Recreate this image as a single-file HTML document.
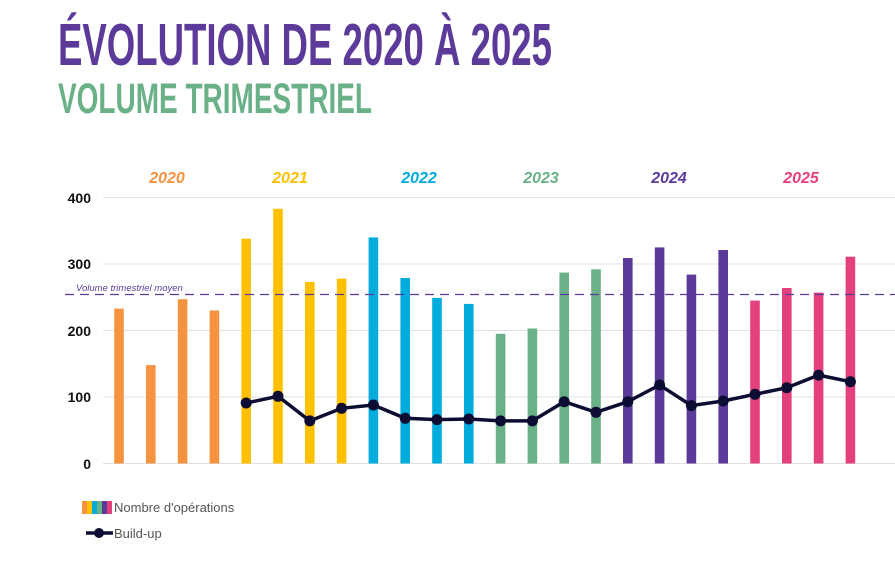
<!DOCTYPE html>
<html><head><meta charset="utf-8"><style>body{margin:0;background:#fff}svg{display:block}</style></head><body>
<svg width="895" height="570" viewBox="0 0 895 570" xmlns="http://www.w3.org/2000/svg" font-family="Liberation Sans, sans-serif">
<text x="58" y="65" font-family="Liberation Sans Narrow, Liberation Sans, sans-serif" font-weight="bold" font-size="59" fill="#5b3a9a" textLength="494" lengthAdjust="spacingAndGlyphs">ÉVOLUTION DE 2020 À 2025</text>
<text x="58" y="113" font-family="Liberation Sans Narrow, Liberation Sans, sans-serif" font-weight="bold" font-size="43" fill="#6ab187" textLength="314" lengthAdjust="spacingAndGlyphs">VOLUME TRIMESTRIEL</text>
<g font-weight="bold" font-style="italic" font-size="16" text-anchor="middle">
<text x="167" y="183" fill="#f59340">2020</text>
<text x="290" y="183" fill="#ffc000">2021</text>
<text x="419" y="183" fill="#00acdc">2022</text>
<text x="541" y="183" fill="#6ab187">2023</text>
<text x="669" y="183" fill="#5b3a9a">2024</text>
<text x="801" y="183" fill="#e5407e">2025</text>
</g>
<g stroke="#e0e0e0" stroke-width="1">
<line x1="103" y1="197.5" x2="895" y2="197.5"/><line x1="103" y1="264" x2="895" y2="264"/><line x1="103" y1="330.5" x2="895" y2="330.5"/><line x1="103" y1="397" x2="895" y2="397"/><line x1="103" y1="463.5" x2="895" y2="463.5"/>
</g>
<g font-weight="bold" font-size="14" text-anchor="end" fill="#111">
<text x="91" y="203">400</text><text x="91" y="269">300</text><text x="91" y="336">200</text><text x="91" y="402">100</text><text x="91" y="469">0</text>
</g>
<g>
<g fill="#f59340">
<rect x="114.2" y="308.6" width="9.6" height="154.9"/><rect x="146" y="365.1" width="9.6" height="98.4"/><rect x="177.8" y="299.2" width="9.6" height="164.3"/><rect x="209.6" y="310.5" width="9.6" height="153"/>
</g>
<g fill="#ffc000">
<rect x="241.4" y="238.7" width="9.6" height="224.8"/><rect x="273.2" y="208.8" width="9.6" height="254.7"/><rect x="305" y="282" width="9.6" height="181.5"/><rect x="336.8" y="278.6" width="9.6" height="184.9"/>
</g>
<g fill="#00acdc">
<rect x="368.6" y="237.4" width="9.6" height="226.1"/><rect x="400.4" y="278" width="9.6" height="185.5"/><rect x="432.2" y="297.9" width="9.6" height="165.6"/><rect x="464" y="303.9" width="9.6" height="159.6"/>
</g>
<g fill="#6ab187">
<rect x="495.8" y="333.8" width="9.6" height="129.7"/><rect x="527.6" y="328.5" width="9.6" height="135"/><rect x="559.4" y="272.6" width="9.6" height="190.9"/><rect x="591.2" y="269.3" width="9.6" height="194.2"/>
</g>
<g fill="#5b3a9a">
<rect x="623" y="258" width="9.6" height="205.5"/><rect x="654.8" y="247.4" width="9.6" height="216.1"/><rect x="686.6" y="274.6" width="9.6" height="188.9"/><rect x="718.4" y="250" width="9.6" height="213.5"/>
</g>
<g fill="#e5407e">
<rect x="750.2" y="300.6" width="9.6" height="162.9"/><rect x="782" y="288" width="9.6" height="175.5"/><rect x="813.8" y="292.6" width="9.6" height="170.9"/><rect x="845.6" y="256.7" width="9.6" height="206.8"/>
</g>
</g>
<line x1="65" y1="294.5" x2="895" y2="294.5" stroke="#5b3a9a" stroke-width="1.3" stroke-dasharray="9,6"/>
<text x="76" y="291" font-size="9.5" font-style="italic" fill="#5b3a9a">Volume trimestriel moyen</text>
<polyline fill="none" stroke="#0d0d33" stroke-width="3.5" points="246.2,403 278,396.3 309.8,420.9 341.6,408.3 373.4,405 405.2,418.3 437,419.6 468.8,419 500.6,420.9 532.4,420.9 564.2,401.7 596,412.3 627.8,401.7 659.6,385 691.4,405.6 723.2,401 755,394.3 786.8,387.7 818.6,375.1 850.4,381.7"/>
<g fill="#0d0d33">
<circle cx="246.2" cy="403" r="5.5"/><circle cx="278" cy="396.3" r="5.5"/><circle cx="309.8" cy="420.9" r="5.5"/><circle cx="341.6" cy="408.3" r="5.5"/><circle cx="373.4" cy="405" r="5.5"/><circle cx="405.2" cy="418.3" r="5.5"/><circle cx="437" cy="419.6" r="5.5"/><circle cx="468.8" cy="419" r="5.5"/><circle cx="500.6" cy="420.9" r="5.5"/><circle cx="532.4" cy="420.9" r="5.5"/><circle cx="564.2" cy="401.7" r="5.5"/><circle cx="596" cy="412.3" r="5.5"/><circle cx="627.8" cy="401.7" r="5.5"/><circle cx="659.6" cy="385" r="5.5"/><circle cx="691.4" cy="405.6" r="5.5"/><circle cx="723.2" cy="401" r="5.5"/><circle cx="755" cy="394.3" r="5.5"/><circle cx="786.8" cy="387.7" r="5.5"/><circle cx="818.6" cy="375.1" r="5.5"/><circle cx="850.4" cy="381.7" r="5.5"/>
</g>
<rect x="82" y="501" width="5" height="13" fill="#f59340"/><rect x="87" y="501" width="5" height="13" fill="#ffc000"/><rect x="92" y="501" width="5" height="13" fill="#00acdc"/><rect x="97" y="501" width="5" height="13" fill="#6ab187"/><rect x="102" y="501" width="5" height="13" fill="#5b3a9a"/><rect x="107" y="501" width="5" height="13" fill="#e5407e"/>
<text x="114" y="512" font-size="13" fill="#555">Nombre d'opérations</text>
<line x1="86" y1="533" x2="113" y2="533" stroke="#0d0d33" stroke-width="3.5"/><circle cx="99" cy="533" r="5" fill="#0d0d33"/>
<text x="114" y="538" font-size="13" fill="#555">Build-up</text>
</svg>
</body></html>
